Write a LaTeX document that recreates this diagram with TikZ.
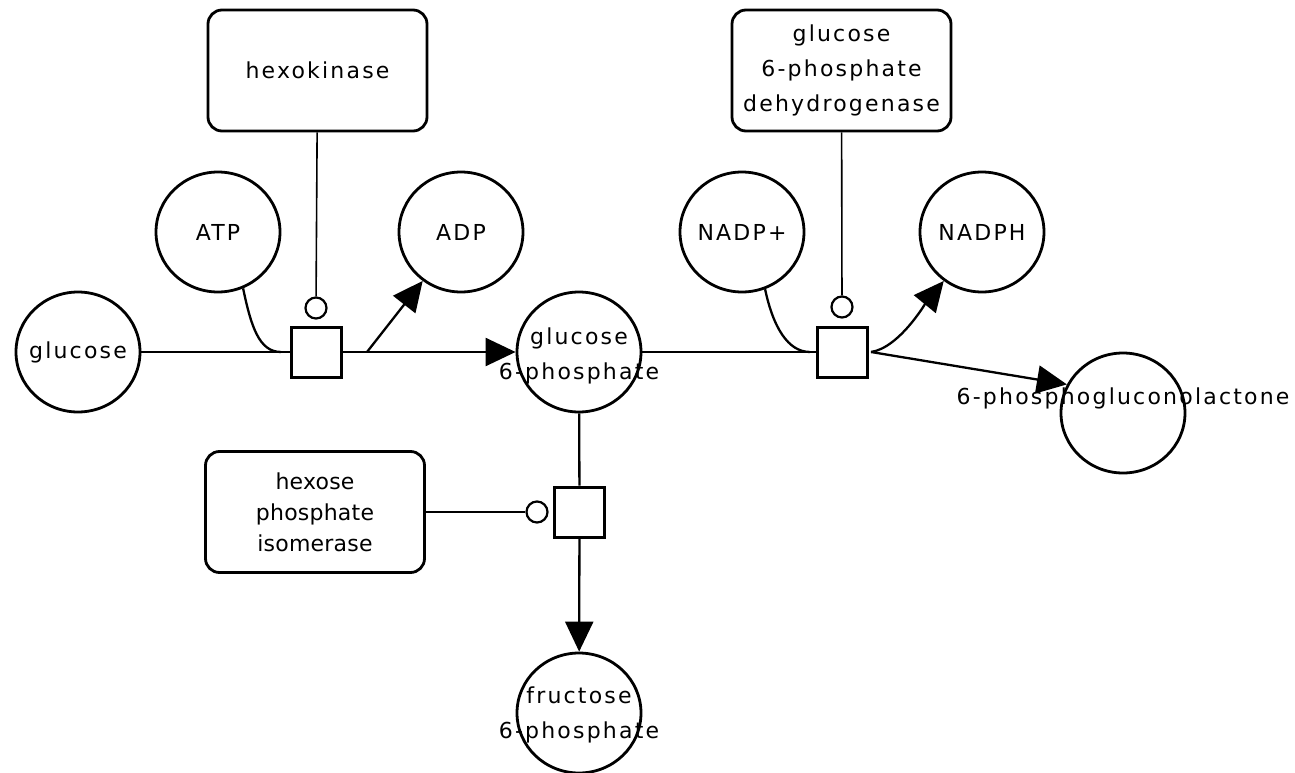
\documentclass[tikz,border=0pt]{standalone}
\usepackage{fontspec}
\setmainfont{DejaVu Sans}
\newfontfamily\lblfont{DejaVu Sans}[LetterSpace=10]
\newfontfamily\enzfont{DejaVu Sans}[LetterSpace=1]
\usetikzlibrary{shapes.geometric,arrows.meta}

\begin{document}
\begin{tikzpicture}[x=1pt,y=-1pt,
  lbl/.style={font=\lblfont\fontsize{22}{35}\selectfont, align=center, inner sep=0pt},
  species/.style={ellipse, draw, line width=2.8pt, fill=white,
    minimum width=124pt, minimum height=120pt, inner sep=0pt},
  spc/.style={species, label={[lbl]center:#1}},
  enzyme/.style={draw, rounded corners=14pt, line width=2.8pt, fill=white,
    minimum width=219pt, minimum height=121pt, inner sep=0pt, align=center,
    font=\lblfont\fontsize{22}{35}\selectfont},
  procbox/.style={draw, rectangle, line width=3pt, fill=white,
    minimum size=50pt, inner sep=0pt},
  catdot/.style={circle, draw, line width=2.2pt, fill=white,
    minimum size=21pt, inner sep=0pt},
  arc/.style={line width=2.3pt},
  prod/.style={line width=2.3pt, -{Triangle[length=30pt,width=28pt]}},
  catline/.style={line width=1.6pt},
]
\useasboundingbox (0,0) rectangle (1295,773);

% ports of the process boxes
\coordinate (p1in)  at (281,352);
\coordinate (p1out) at (367,352);
\coordinate (p2in)  at (810,352);
\coordinate (p2out) at (871,352);

% species
\node[spc=glucose] (glc) at (78,352) {};
\node[spc=ATP] (atp) at (218,232) {};
\node[spc=ADP] (adp) at (461,232) {};
\node[species, label={[lbl,yshift=-4pt]center:glucose\\6-phosphate}] (g6p) at (579,352) {};
\node[spc={NADP+}] (nadp) at (742,232) {};
\node[spc=NADPH] (nadph) at (982,232) {};
\node[species, label={[lbl,yshift=15pt]center:6-phosphogluconolactone}] (lac) at (1123,413) {};
\node[species, label={[lbl,yshift=-2pt]center:fructose\\6-phosphate}] (f6p) at (579,713) {};

% enzymes
\node[enzyme] (hk) at (317.5,70.5) {hexokinase};
\node[enzyme] (gpd) at (841.5,70.5) {glucose\\6-phosphate\\dehydrogenase};
\node[enzyme, font=\enzfont\fontsize{22}{31}\selectfont] (hpi) at (315,512)
  {hexose\\phosphate\\isomerase};

% process nodes and catalysis markers
\node[procbox] (p1) at (316,352) {};
\node[procbox] (p2) at (842,352) {};
\node[procbox] (p3) at (579.5,512) {};
\node[catdot] (c1) at (316,308) {};
\node[catdot] (c2) at (842,307) {};
\node[catdot] (c3) at (537,512) {};

% reaction 1: hexokinase
\draw[arc] (glc) -- (p1);
\draw[arc] (atp.-66) .. controls +(8,38) and +(-22,0) .. (p1in);
\draw[prod] (p1) -- (g6p);
\draw[prod] (p1out) -- (adp);
\draw[catline] (hk) -- (c1);

% reaction 2: glucose 6-phosphate dehydrogenase
\draw[arc] (g6p) -- (p2);
\draw[arc] (nadp.-68) .. controls +(8,38) and +(-22,0) .. (p2in);
\draw[prod] (p2out) .. controls +(28,-4) and +(-18,22) .. (nadph.-128);
\draw[prod] (p2out) -- (lac.153);
\draw[catline] (gpd) -- (c2);

% reaction 3: hexose phosphate isomerase
\draw[arc] (g6p) -- (p3);
\draw[prod] (p3) -- (f6p);
\draw[catline] (hpi) -- (c3);
\end{tikzpicture}
\end{document}
